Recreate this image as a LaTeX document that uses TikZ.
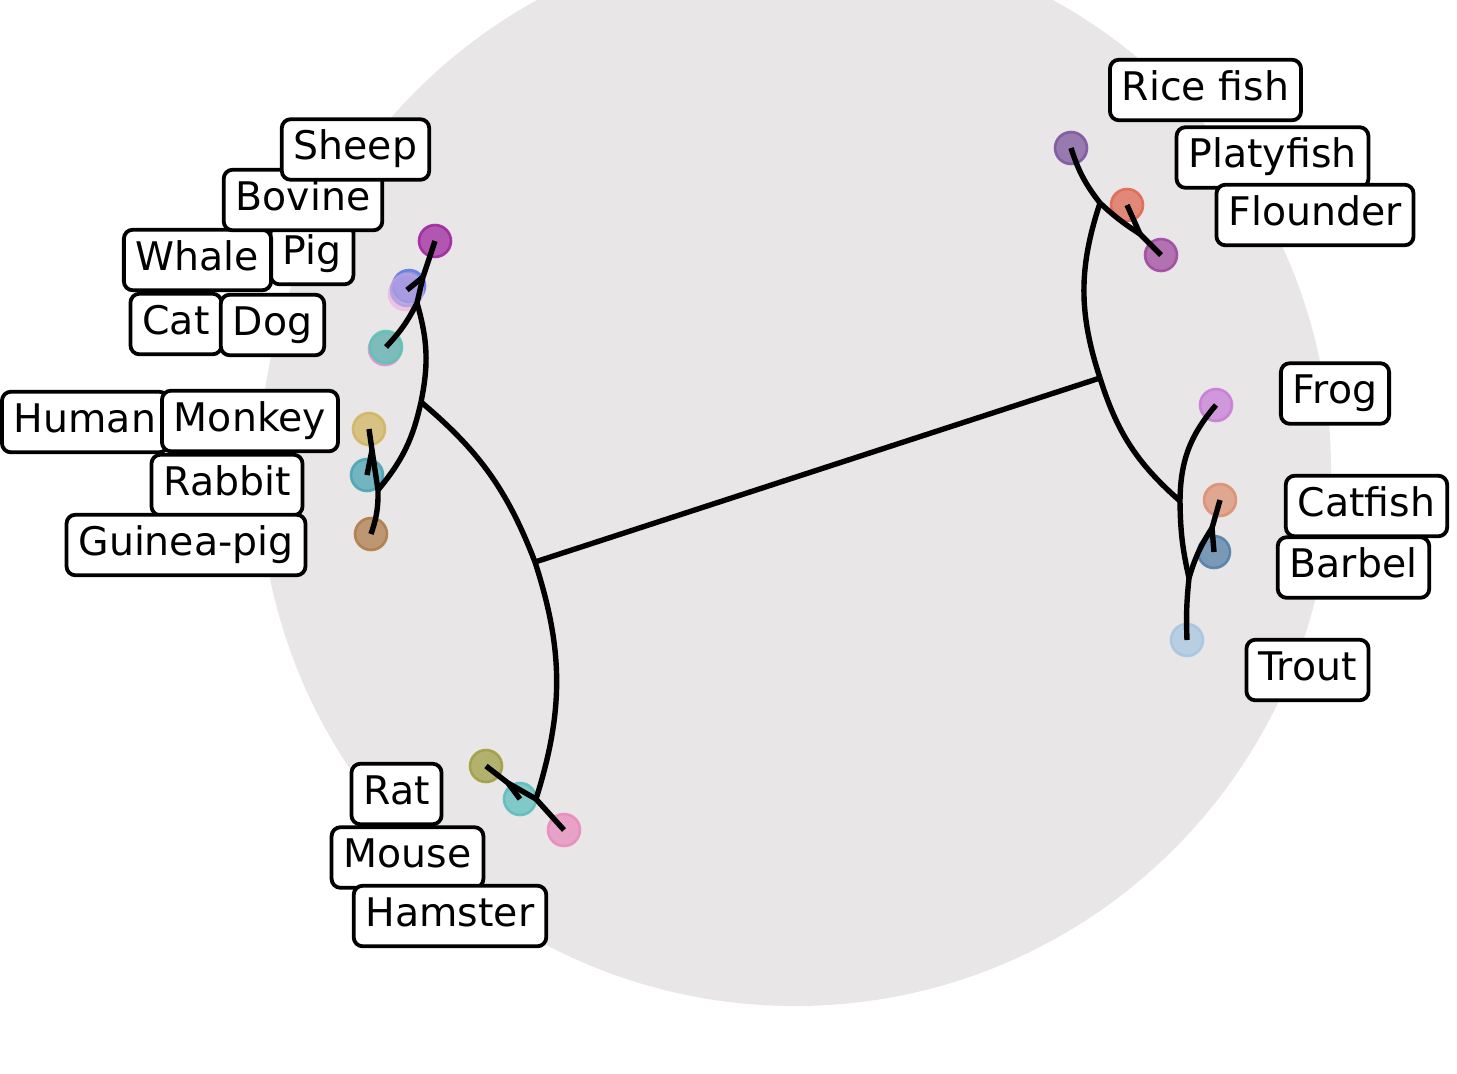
\documentclass[tikz,border=0pt]{standalone}
\usepackage{fontspec}
\newfontfamily\lblfont{DejaVu Sans}
\definecolor{disk}{RGB}{232,230,231}
\definecolor{cMag}{RGB}{160,40,160}
\definecolor{cBlue}{RGB}{100,125,225}
\definecolor{cLav}{RGB}{180,160,225}
\definecolor{cPinkL}{RGB}{240,190,225}
\definecolor{cTealA}{RGB}{95,195,180}
\definecolor{cPinkT}{RGB}{215,150,205}
\definecolor{cYel}{RGB}{210,182,100}
\definecolor{cTealB}{RGB}{75,165,180}
\definecolor{cBrown}{RGB}{175,125,75}
\definecolor{cOlive}{RGB}{160,160,70}
\definecolor{cTealC}{RGB}{95,190,190}
\definecolor{cPink}{RGB}{232,140,190}
\definecolor{cPurp}{RGB}{125,88,158}
\definecolor{cRed}{RGB}{225,105,85}
\definecolor{cMagB}{RGB}{160,75,160}
\definecolor{cLilac}{RGB}{200,125,215}
\definecolor{cSalmon}{RGB}{220,145,115}
\definecolor{cBlueB}{RGB}{85,128,168}
\definecolor{cLtBlue}{RGB}{168,198,224}
\begin{document}
\begin{tikzpicture}[x=0.5pt,y=-0.5pt,
  mk/.style={circle, minimum size=16pt, inner sep=0pt, line width=1.3pt, draw=#1, fill=#1, fill opacity=0.75, draw opacity=0.9},
  branch/.style={line width=2.7pt, black},
  lbl/.style={draw, line width=1.9pt, fill=white, rounded corners=4.5pt, inner xsep=6pt, inner ysep=5.3pt,
    text height=15pt, text depth=4.7pt, font={\lblfont\fontsize{19.7pt}{23pt}\selectfont}}]
\useasboundingbox (0,0) rectangle (1457,1073);
\clip (0,0) rectangle (1457,1073);
\fill[disk] (795,470) circle[radius=268pt];

% internal points
\coordinate (A) at (535,562);
\coordinate (B) at (1100,378);
\coordinate (L1) at (421,402);
\coordinate (L2) at (536,799);
\coordinate (Ltop) at (417,303);
\coordinate (Lt2) at (423,277);
\coordinate (Lbot) at (378,490);
\coordinate (Lb2) at (372,450);
\coordinate (Lb3) at (508,783);
\coordinate (Rtop) at (1100,203);
\coordinate (Rt2) at (1140,234);
\coordinate (Rbot) at (1180,501);
\coordinate (Rb2) at (1189,578);
\coordinate (Rb3) at (1212,528);

% markers
\node[mk=cMag] (mMag) at (435,241) {};
\node[mk=cPinkL] (mPinkL) at (405,294) {};
\node[mk=cBlue] (mBlue) at (409,286) {};
\node[mk=cLav] (mLav) at (407,290) {};
\node[mk=cPinkT] (mPinkT) at (385,349) {};
\node[mk=cTealA] (mTealA) at (386,347) {};
\node[mk=cYel] (mYel) at (369,429) {};
\node[mk=cTealB] (mTealB) at (367,475) {};
\node[mk=cBrown] (mBrown) at (371,534) {};
\node[mk=cOlive] (mOlive) at (486,766) {};
\node[mk=cTealC] (mTealC) at (520,799) {};
\node[mk=cPink] (mPink) at (564,830) {};
\node[mk=cPurp] (mPurp) at (1071,148) {};
\node[mk=cRed] (mRed) at (1127,205) {};
\node[mk=cMagB] (mMagB) at (1161,255) {};
\node[mk=cLilac] (mLilac) at (1216,405) {};
\node[mk=cSalmon] (mSalmon) at (1220,500) {};
\node[mk=cBlueB] (mBlueB) at (1214,552) {};
\node[mk=cLtBlue] (mLtBlue) at (1187,640) {};

% branches
\draw[branch] (A) -- (B);
\draw[branch] (A) to[bend right=14.4] (L1);
\draw[branch] (A) to[bend left=17.7] (L2);
\draw[branch] (L1) to[bend right=13.8] (Ltop);
\draw[branch] (L1) to[bend left=13.6] (Lbot);
\draw[branch] (Ltop) -- (Lt2) -- (mMag.center);
\draw[branch] (Lt2) -- (mLav.center);
\draw[branch] (Ltop) to[bend left=8] (mTealA.center);
\draw[branch] (Lbot) -- (Lb2) -- (mYel.center);
\draw[branch] (Lb2) -- (mTealB.center);
\draw[branch] (Lbot) to[bend left=10] (mBrown.center);
\draw[branch] (L2) -- (Lb3) -- (mOlive.center);
\draw[branch] (Lb3) -- (mTealC.center);
\draw[branch] (L2) -- (mPink.center);
\draw[branch] (B) to[bend left=18.3] (Rtop);
\draw[branch] (B) to[bend right=15.6] (Rbot);
\draw[branch] (Rtop) to[bend left=10] (mPurp.center);
\draw[branch] (Rtop) to[bend right=5] (Rt2);
\draw[branch] (Rt2) -- (mMagB.center);
\draw[branch] (Rt2) -- (mRed.center);
\draw[branch] (Rbot) to[bend left=20] (mLilac.center);
\draw[branch] (Rbot) to[bend right=6] (Rb2);
\draw[branch] (Rb2) to[bend right=4] (mLtBlue.center);
\draw[branch] (Rb2) to[bend left=8] (Rb3);
\draw[branch] (Rb3) -- (mSalmon.center);
\draw[branch] (Rb3) -- (mBlueB.center);

% labels
\node[lbl] (tPig) at (312,254) {Pig};
\node[lbl] (tWhale) at (197.5,260) {Whale};
\node[lbl] (tCat) at (176,324) {Cat};
\node[lbl] (tDog) at (272.5,325) {Dog};
\node[lbl] (tBovine) at (303,200) {Bovine};
\node[lbl] (tSheep) at (355.5,149.5) {Sheep};
\node[lbl] (tHuman) at (85,422) {Human};
\node[lbl] (tMonkey) at (250,421) {Monkey};
\node[lbl] (tRabbit) at (227,485) {Rabbit};
\node[lbl] (tGuinea) at (186,545) {Guinea-pig};
\node[lbl] (tRat) at (396.5,794) {Rat};
\node[lbl] (tMouse) at (407.5,857.5) {Mouse};
\node[lbl] (tHamster) at (450,916) {Hamster};
\node[lbl] (tRice) at (1205.5,90) {Rice fish};
\node[lbl] (tPlaty) at (1272.5,157.5) {Platyfish};
\node[lbl] (tFlounder) at (1315,215) {Flounder};
\node[lbl] (tFrog) at (1335,393.5) {Frog};
\node[lbl] (tCatfish) at (1366.5,506) {Catfish};
\node[lbl] (tBarbel) at (1353.5,567.5) {Barbel};
\node[lbl] (tTrout) at (1307.5,670) {Trout};
\end{tikzpicture}
\end{document}
